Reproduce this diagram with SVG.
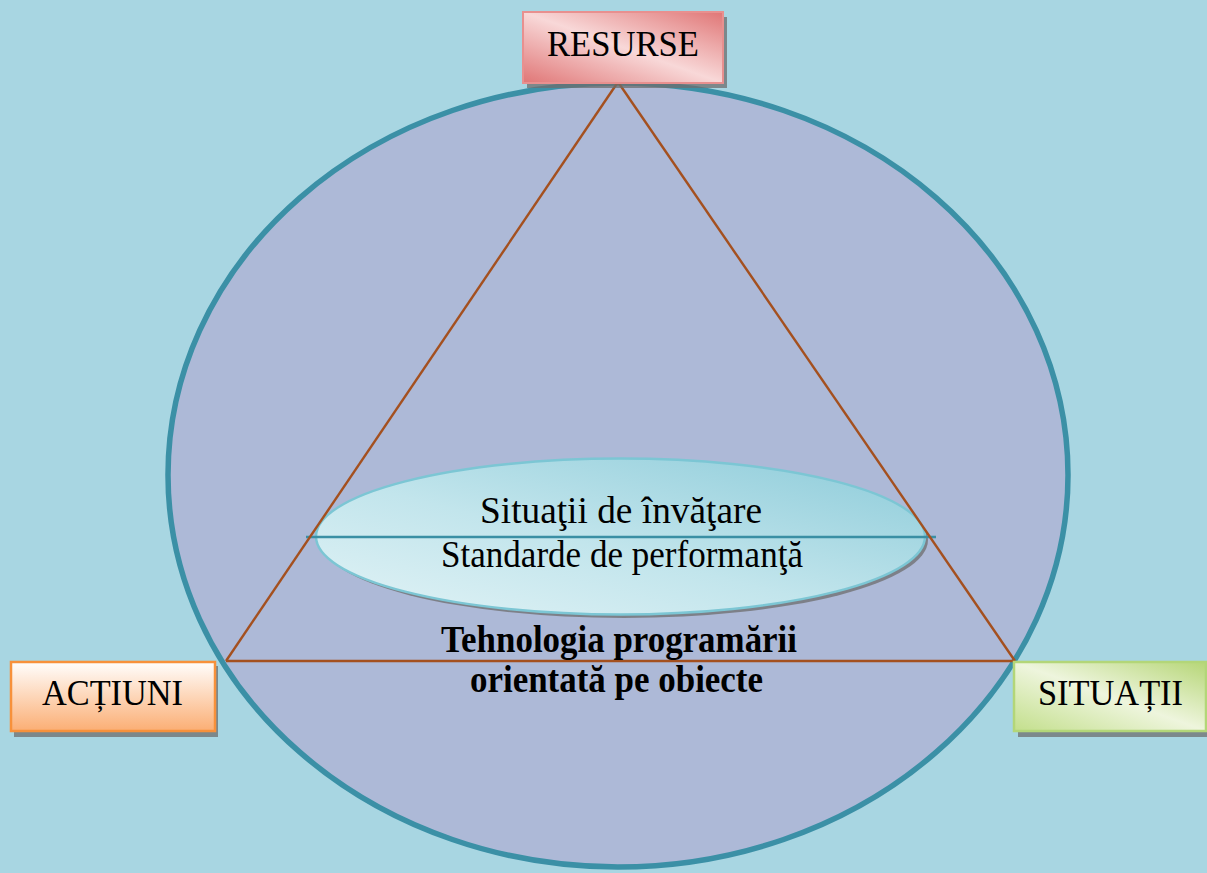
<svg xmlns="http://www.w3.org/2000/svg" width="1207" height="873" viewBox="0 0 1207 873">
  <defs>
    <style>
      .lbl { font-family: "Liberation Serif", "Times New Roman", serif; fill: #000; text-anchor: middle; }
      .box-text { font-size: 35px; }
      .inner-text { font-size: 38px; }
      .bold-text { font-size: 37px; font-weight: bold; }
      .shadow { fill: #6e6e6e; fill-opacity: 0.75; }
      .edge { stroke: #a4501f; stroke-width: 2.4; fill: none; }
    </style>
    <linearGradient id="gRed" x1="0" y1="1" x2="1" y2="0">
      <stop offset="0" stop-color="#e07676"/>
      <stop offset="0.5" stop-color="#f8d8d8"/>
      <stop offset="1" stop-color="#e07676"/>
    </linearGradient>
    <linearGradient id="gGreen" x1="0" y1="1" x2="1" y2="0">
      <stop offset="0" stop-color="#c3df8c"/>
      <stop offset="0.5" stop-color="#eef5dd"/>
      <stop offset="1" stop-color="#b6d677"/>
    </linearGradient>
    <linearGradient id="gOrange" x1="0" y1="0" x2="0" y2="1">
      <stop offset="0" stop-color="#fffefd"/>
      <stop offset="1" stop-color="#fbae74"/>
    </linearGradient>
    <linearGradient id="gTeal" x1="0" y1="1" x2="1" y2="0">
      <stop offset="0" stop-color="#e2f3f6"/>
      <stop offset="0.45" stop-color="#c2e5ec"/>
      <stop offset="1" stop-color="#8ccbd9"/>
    </linearGradient>
  </defs>

  <!-- background -->
  <rect x="0" y="0" width="1207" height="873" fill="#a8d6e2"/>

  <!-- outer ring -->
  <g id="outer-circle">
    <ellipse cx="618" cy="475" rx="450" ry="392" fill="#adb9d7" stroke="#3b90a6" stroke-width="5.5"/>
  </g>

  <!-- central ellipse -->
  <g id="inner-ellipse">
    <ellipse cx="624" cy="540" rx="304" ry="78" class="shadow"/>
    <ellipse cx="620.5" cy="536.5" rx="304.5" ry="78" fill="url(#gTeal)" stroke="#7cc6d4" stroke-width="2.5"/>
    <line x1="306" y1="537" x2="936" y2="537" stroke="#3a8fa4" stroke-width="2.5"/>
    <text class="lbl inner-text" x="621" y="523" textLength="282" lengthAdjust="spacingAndGlyphs">Situaţii de învăţare</text>
    <text class="lbl inner-text" x="622" y="567" textLength="362" lengthAdjust="spacingAndGlyphs">Standarde de performanţă</text>
  </g>

  <!-- triangle edges -->
  <g id="connectors">
    <line class="edge" x1="618" y1="82" x2="226" y2="661"/>
    <line class="edge" x1="618" y1="82" x2="1015" y2="661"/>
    <line class="edge" x1="226" y1="661" x2="1015" y2="661"/>
  </g>

  <!-- caption -->
  <g id="caption">
    <text class="lbl bold-text" x="619" y="652" textLength="356" lengthAdjust="spacingAndGlyphs">Tehnologia programării</text>
    <text class="lbl bold-text" x="616.5" y="692" textLength="293" lengthAdjust="spacingAndGlyphs">orientată pe obiecte</text>
  </g>

  <!-- corner nodes -->
  <g id="resurse">
    <rect x="527" y="17" width="200" height="71" class="shadow"/>
    <rect x="523" y="12" width="200" height="71" fill="url(#gRed)" stroke="#e8908f" stroke-width="2"/>
    <text class="lbl box-text" x="623" y="56" textLength="152" lengthAdjust="spacingAndGlyphs">RESURSE</text>
  </g>

  <g id="actiuni">
    <rect x="14" y="666" width="204" height="71" class="shadow"/>
    <rect x="11" y="662" width="204" height="69" fill="url(#gOrange)" stroke="#f7913b" stroke-width="2.5"/>
    <text class="lbl box-text" x="112.5" y="705" textLength="141" lengthAdjust="spacingAndGlyphs">ACȚIUNI</text>
  </g>

  <g id="situatii">
    <rect x="1018" y="666" width="192" height="71" class="shadow"/>
    <rect x="1014" y="662" width="192" height="69" fill="url(#gGreen)" stroke="#b3d678" stroke-width="2.5"/>
    <text class="lbl box-text" x="1110.5" y="705" textLength="145" lengthAdjust="spacingAndGlyphs">SITUAȚII</text>
  </g>
</svg>
